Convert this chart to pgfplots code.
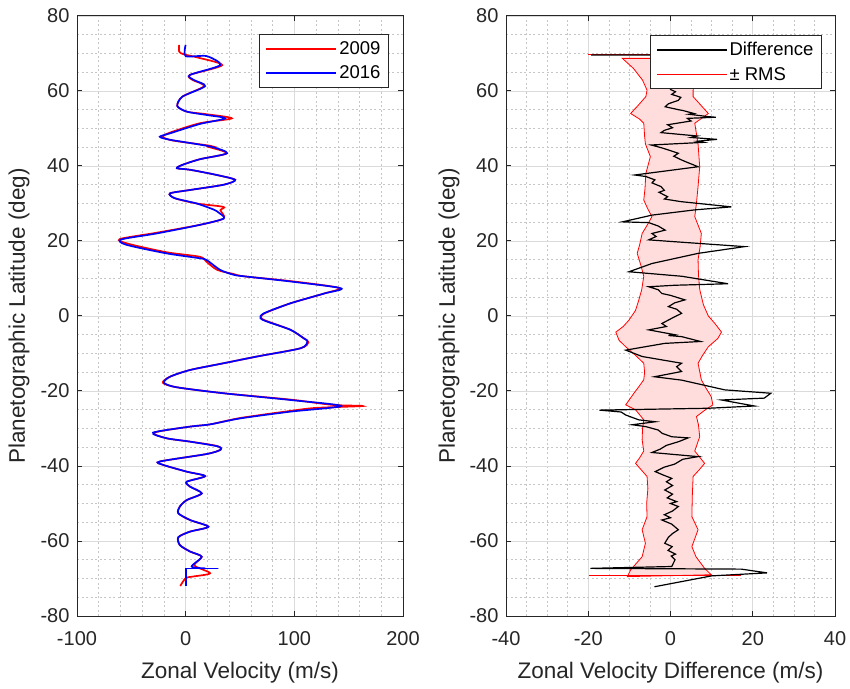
\documentclass[border=0pt]{standalone}
\usepackage{pgfplots}
\pgfplotsset{compat=1.18}
\usepackage{fontspec}
\setmainfont{Liberation Sans}
\definecolor{axgray}{RGB}{38,38,38}
\definecolor{rmsfill}{RGB}{255,221,221}
\begin{document}
\begin{tikzpicture}[x=1pt,y=1pt]
\path[use as bounding box] (0,0) rectangle (850,688);
\pgfplotsset{
  mystyle/.style={
    scale only axis, height=600pt,
    ymin=-80, ymax=80, ytick={-80,-60,...,80}, minor y tick num=3,
    grid=both,
    major grid style={color=gray!28, line width=0.7pt},
    minor grid style={color=gray!45, dash pattern=on 2pt off 2.5pt, line width=0.6pt},
    tick align=inside, major tick length=5pt, minor tick length=0pt,
    axis line style={axgray, line width=1pt},
    every tick/.style={axgray, line width=1pt},
    tick label style={font=\fontsize{20}{24}\selectfont, text=axgray},
    /pgf/number format/assume math mode=true,
    xticklabel style={yshift=-12pt},
    yticklabel style={xshift=-4pt},
    label style={font=\fontsize{22.5}{27}\selectfont, text=axgray},
    xlabel style={at={(axis description cs:0.5,0)}, anchor=center, yshift=-57pt},
    ylabel style={anchor=center, rotate=0},
    legend style={font=\fontsize{18.5}{22}\selectfont, draw=axgray, line width=1pt,
      at={(1,1)}, anchor=north east, inner xsep=6pt, inner ysep=5pt,
      row sep=6pt, text=black},
    legend cell align=left,
    legend image code/.code={\draw[#1] (0pt,0pt) -- (70pt,0pt);},
  }
}
% ---------------- left panel ----------------
\begin{axis}[mystyle, at={(77pt,72pt)}, anchor=south west, width=326pt,
  xmin=-100, xmax=200, xtick={-100,0,100,200}, minor x tick num=4,
  xlabel={Zonal Velocity (m/s)}, ylabel={Planetographic Latitude (deg)},
  ylabel style={at={(axis description cs:-0.178,0.5)}},
  legend style={xshift=-14pt, yshift=-18pt}]
\addplot[red, line width=1.7pt, smooth, tension=0.45, forget plot] coordinates {
(-6,72.3)(-6,70.5)(-2,69.8)(10,69)(33.6,66.9)(4,64.3)(6,63)(17,61.3)(-3,58.5)(-7.7,56)(1,54.5)(19.4,53.8)(42.5,52.7)(13,51.4)(-14.5,48.9)(-21,47.8)(-12,46.8)(22.5,45.4)(20,45.2)(38,43.4)(13,41.8)(-3,40.3)(-8.1,39.4)(4,39)(28.7,37.6)(45.6,36.3)(34.9,35)(4,33.6)(-14.5,32.7)(-9.9,31.4)(10.2,30)(34.8,29.1)(32,28.2)(35,26)(13,24.3)(-26.9,22.2)(-60.8,20.5)(-52,19.2)(-17.6,17)(13,15.8)(19,14.5)(29,12.3)(44,11.2)(53.2,10.6)(96.6,9.3)(141,7.5)(127.5,6)(96.6,3.4)(72.5,0.7)(69.5,-0.6)(76,-1.5)(96.6,-3.7)(109,-6)(113,-7)(105.8,-8.6)(65.7,-10.8)(34.9,-12.6)(4,-14.4)(-14.5,-16.2)(-21,-17.8)(-8.3,-19)(34.9,-20.6)(96.6,-22.3)(135,-23.7)(163,-24)(120,-24.5)(96.6,-25.3)(50.3,-27.2)(22.5,-28.9)(4,-29.5)(-29,-31.1)(-17.6,-32.6)(4,-33.5)(28,-34.6)(32.5,-35.6)(19.4,-36.8)(-23.8,-38.8)(-20.7,-39.7)(0.9,-41.5)(17.9,-42.7)(0.9,-44.2)(4,-45.5)(14.8,-47.3)(0.9,-49.1)(-5.3,-50.8)(-6.8,-52.6)(4,-54.4)(20.9,-56.2)(4,-57.5)(-6.8,-59)(-5.3,-61.1)(4,-62.8)(14.8,-64.2)(8,-66.5)(22.5,-68.6)(6.2,-69.5)(0,-69.9)(-5,-72)
};
\addplot[blue, line width=1.7pt, smooth, tension=0.45, forget plot] coordinates {
(0,72.3)(0,69.3)(19.4,69.3)(31.8,66.9)(4,64.3)(7,63)(17.9,61.3)(-3,58.5)(-7.7,56)(1,54.5)(19.4,53.6)(36.4,52.7)(13,51.2)(-14.5,48.7)(-23.8,47.8)(-14.5,47)(22.5,45.2)(38,43.4)(13,41.8)(-3,40.3)(-8.1,39.4)(4,39)(28.7,37.6)(45.6,36.3)(34.9,35)(4,33.6)(-14.5,32.7)(-9.9,31.4)(10.2,30)(25.6,28.4)(30.2,27.6)(35,26)(13,24.3)(-26.9,22)(-59.3,20.4)(-54.7,19)(-17.6,16.7)(13,15.4)(19.4,14.9)(31.7,12.3)(44,11)(53.2,10.6)(96.6,9.2)(142.9,7.4)(127.5,6)(96.6,3.4)(71.9,0.7)(68.8,-0.6)(75,-1.5)(96.6,-3.7)(108.9,-6)(112,-6.8)(105.8,-8.6)(65.7,-10.8)(34.9,-12.6)(4,-14.4)(-14.5,-16.2)(-20,-17.8)(-8.3,-19)(34.9,-20.6)(96.6,-22.4)(142.9,-24)(96.6,-25.5)(50.3,-27.3)(22.5,-28.9)(4,-29.5)(-30,-31.1)(-17.6,-32.6)(4,-33.5)(30,-34.8)(31.8,-35.7)(19.4,-36.8)(-23.8,-38.8)(-20.7,-39.7)(0.9,-41.5)(17.9,-42.7)(0.9,-44.2)(4,-45.5)(14.8,-47.3)(0.9,-49.1)(-5.3,-50.8)(-6.8,-52.6)(4,-54.4)(20.9,-56.2)(4,-57.5)(-6.8,-59)(-5.3,-61.1)(4,-62.8)(14.8,-64.2)(5.5,-66.8)(18,-67.3)
};
\addplot[blue, line width=1.7pt, forget plot] coordinates {(18,-67.3)(30,-67.3)(0,-67.3)(0,-72)};
\addlegendimage{draw=red, line width=1.7pt}
\addlegendentry{2009}
\addlegendimage{draw=blue, line width=1.7pt}
\addlegendentry{2016}
\end{axis}
% ---------------- right panel ----------------
\begin{axis}[mystyle, at={(506pt,72pt)}, anchor=south west, width=329pt,
  xmin=-40, xmax=40, xtick={-40,-20,...,40}, minor x tick num=3,
  xlabel={Zonal Velocity Difference (m/s)}, ylabel={Planetographic Latitude (deg)},
  ylabel style={at={(axis description cs:-0.173,0.5)}},
  legend style={xshift=-13pt, yshift=-19pt}]
\addplot[draw=red, fill=rmsfill, line width=0.8pt, forget plot] coordinates {
(-11.7,68.7)(-9,66)(-6.8,62.9)(-5.7,60.2)(-6,58.5)(-8,56)(-9.7,54)(-7.5,52.5)(-6.5,51.4)(-6.3,48)(-6.1,45.9)(-4.9,42.5)(-5.5,40)(-6,38)(-6.2,34)(-6.5,30.9)(-5.5,28.5)(-4.5,26.5)(-5.8,24)(-6.9,22)(-7.5,19)(-8.1,16.7)(-7.2,13.5)(-6.5,10.6)(-7,7)(-7.7,4.3)(-8.5,1.5)(-10.1,-1.1)(-11.5,-2.8)(-13.3,-4.3)(-12.5,-6.5)(-10.9,-8.2)(-8.5,-10.5)(-6.5,-12.6)(-6.3,-15)(-6.5,-17)(-7.8,-19)(-8.9,-20.6)(-10.9,-23.7)(-8.5,-25)(-6.5,-27.7)(-6.8,-30)(-6.9,-33)(-6.5,-36)(-7.5,-37.8)(-8.5,-39.3)(-5.7,-42.8)(-5.5,-46)(-5.8,-50)(-5.7,-53.5)(-6.9,-57)(-6.1,-60.6)(-6.9,-64.2)(-9.7,-67.7)(-10.5,-69.5)
(9.9,-69)(8.3,-67.3)(6.2,-64.2)(5.2,-61.5)(6.7,-57)(5.2,-53.5)(5.3,-48)(5.5,-42.8)(7,-41)(8.3,-39.3)(5.9,-36)(7.1,-32.2)(6.8,-29)(6.3,-26.8)(8.5,-25)(10.3,-23.7)(9.9,-21.5)(8.5,-19)(7.5,-17)(6.7,-12.6)(7.8,-10.5)(9.2,-8.2)(11.5,-6)(12.4,-4.3)(10.8,-2)(9.2,0)(8,3)(7.1,7.1)(6.8,11)(6.7,15)(7.2,18.5)(7.5,22)(5.9,26.5)(6.3,30)(6.7,34.5)(7.1,39.8)(6.7,45.9)(5.9,51.4)(9.2,54)(5.5,58.5)(5.5,60.2)(6,63)(8,66)(10,68.7)
} -- cycle;
\addplot[red, line width=1pt, forget plot] coordinates {(-20,69.6)(6,69.6)};
\addplot[red, line width=1pt, forget plot] coordinates {(-19.7,-69.3)(17.2,-69.3)};
\addplot[black, line width=1.2pt, forget plot] coordinates {
(-19.3,69.6)(2,69.6)(1,65)(0,60.4)(1.2,59.8)(0.3,59.1)(2.5,58.3)(1.9,57.5)(-0.5,56.6)(-1.3,55.8)(2,55)(3,54.8)(5.7,54)(4.5,53.8)(8.9,53.2)(11,53)(4.1,52.7)(5,52)(-0.7,51)(0.5,50.2)(-1.5,49.5)(-2.3,48.9)(6.5,48)(5,47.6)(11.3,47.1)(6.5,46.6)(8,46.3)(-4.7,45.6)(-2,44.8)(1.9,43.4)(0.8,42.6)(2.7,41.6)(4,41)(6.7,39.8)(-8.7,37.6)(-6,37.2)(-3.8,36.3)(-4.5,35.5)(-2.3,34.5)(-1.5,33.5)(-2.8,33)(-0.7,31.8)(-1.5,31.2)(2.5,30.5)(14.8,29.1)(5.9,28.3)(-4.5,26.9)(-11.7,25.1)(-5.3,24.9)(-3,24)(-1.3,22.9)(-4.5,22)(-3.5,21.2)(-5.3,20.3)(1.1,19.8)(18,18.5)(6.7,16.7)(-4.5,14)(-10.1,11.8)(2.7,10.6)(14,8.6)(1.1,8.2)(-5.3,7.8)(-3,7)(-2.1,6)(0,5.5)(3.5,4.3)(1,3.5)(-0.5,2.5)(1.5,1.8)(2.7,0.7)(0.5,-0.5)(-2.1,-2)(-1,-2.8)(-5.3,-3.7)(1.1,-5)(-0.5,-5.2)(2.7,-5.5)(7.3,-6.8)(-1.4,-7.3)(-10.9,-9.1)(-6.9,-10.8)(2.7,-12.6)(1.5,-13.5)(2.7,-14.8)(-3.9,-16.2)(2.7,-17.1)(13.2,-19.7)(24.4,-20.6)(22.8,-21.9)(12.4,-22.4)(20.4,-24)(9.2,-24.6)(-17.3,-25.1)(-12,-25.6)(-10.9,-26.4)(-7.7,-27.7)(-3.7,-28.2)(-9.3,-29)(-6,-29.5)(-3,-30.4)(-2,-31.3)(0.3,-32.2)(4.3,-32.5)(2,-33.5)(-1,-34.5)(-2.5,-35.5)(-4.5,-36.4)(6.7,-37.5)(3,-38.2)(1,-39.5)(-1.5,-40.3)(-3.7,-41.5)(-2,-42.3)(0.3,-43.3)(-1,-44.2)(0.5,-45.2)(-1.4,-46.4)(0.5,-47.5)(-0.8,-48.5)(1.5,-49.5)(0,-50)(1.9,-50.8)(0.5,-52)(-1.5,-53)(0,-53.8)(-2.1,-54.4)(0.3,-55.5)(1.9,-57)(0.5,-58)(-0.5,-59)(-1.4,-60.6)(0.4,-61.5)(-0.6,-62.5)(1.2,-63.5)(0.2,-64)(1.1,-65)(0.3,-66.8)(-19.5,-67.3)(17.2,-67.5)(23.5,-68.5)(10,-69.3)(-3.9,-72.2)
};
\addlegendimage{draw=black, line width=1.2pt}
\addlegendentry{Difference}
\addlegendimage{draw=red, line width=1pt}
\addlegendentry{± RMS}
\end{axis}
\end{tikzpicture}
\end{document}
